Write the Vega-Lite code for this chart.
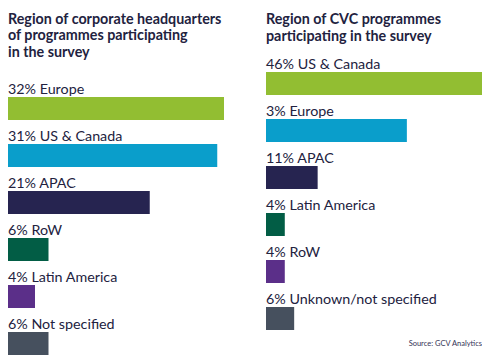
{
  "$schema": "https://vega.github.io/schema/vega-lite/v6.json",
  "background": "white",
  "padding": {"left": 8, "top": 12, "right": 0, "bottom": 0},
  "config": {
    "view": {"stroke": null},
    "font": "Lato",
    "concat": {"spacing": 42},
    "title": {"anchor": "start", "fontSize": 14.3, "fontWeight": "bold", "color": "#222240", "lineHeight": 16.5, "baseline": "top"}
  },
  "datasets": {
    "hq": [
      {"rank": 1, "region": "Europe", "pct": 32, "label": "32% Europe"},
      {"rank": 2, "region": "US & Canada", "pct": 31, "label": "31% US & Canada"},
      {"rank": 3, "region": "APAC", "pct": 21, "label": "21% APAC"},
      {"rank": 4, "region": "RoW", "pct": 6, "label": "6% RoW"},
      {"rank": 5, "region": "Latin America", "pct": 4, "label": "4% Latin America"},
      {"rank": 6, "region": "Not specified", "pct": 6, "label": "6% Not specified"}
    ],
    "cvc": [
      {"rank": 1, "region": "US & Canada", "pct": 46, "label": "46% US & Canada"},
      {"rank": 2, "region": "Europe", "pct": 30, "label": "3% Europe"},
      {"rank": 3, "region": "APAC", "pct": 11, "label": "11% APAC"},
      {"rank": 4, "region": "Latin America", "pct": 4, "label": "4% Latin America"},
      {"rank": 5, "region": "RoW", "pct": 4, "label": "4% RoW"},
      {"rank": 6, "region": "Unknown/not specified", "pct": 6, "label": "6% Unknown/not specified"}
    ],
    "source": [{"rank": 6, "pct": 46, "text": "Source: GCV Analytics"}]
  },
  "hconcat": [
    {
      "title": {"text": ["Region of corporate headquarters", "of programmes participating", "in the survey"], "offset": 21},
      "width": 216,
      "height": 282,
      "data": {"name": "hq"},
      "encoding": {
        "y": {"field": "rank", "type": "ordinal", "axis": null, "scale": {"paddingInner": 0, "paddingOuter": 0}}
      },
      "layer": [
        {
          "mark": {"type": "bar", "height": 23, "yOffset": 4},
          "encoding": {
            "x": {"field": "pct", "type": "quantitative", "axis": null, "scale": {"domain": [0, 32], "nice": false, "zero": true}},
            "color": {"field": "rank", "type": "ordinal", "legend": null, "scale": {"domain": [1, 2, 3, 4, 5, 6], "range": ["#92BE32", "#0A9ECB", "#262450", "#025D45", "#5B2F89", "#46505E"]}}
          }
        },
        {
          "mark": {"type": "text", "align": "left", "baseline": "alphabetic", "dy": -10.5, "fontSize": 14.3, "color": "#222240"},
          "encoding": {"x": {"datum": 0}, "text": {"field": "label"}}
        }
      ]
    },
    {
      "title": {"text": ["Region of CVC programmes", "participating in the survey"], "offset": 14},
      "width": 216,
      "height": 282,
      "encoding": {
        "y": {"field": "rank", "type": "ordinal", "axis": null, "scale": {"paddingInner": 0, "paddingOuter": 0}}
      },
      "layer": [
        {
          "data": {"name": "cvc"},
          "mark": {"type": "bar", "height": 23, "yOffset": -21},
          "encoding": {
            "x": {"field": "pct", "type": "quantitative", "axis": null, "scale": {"domain": [0, 46], "nice": false, "zero": true}},
            "color": {"field": "rank", "type": "ordinal", "legend": null, "scale": {"domain": [1, 2, 3, 4, 5, 6], "range": ["#92BE32", "#0A9ECB", "#262450", "#025D45", "#5B2F89", "#46505E"]}}
          }
        },
        {
          "data": {"name": "cvc"},
          "mark": {"type": "text", "align": "left", "baseline": "alphabetic", "dy": -35.5, "fontSize": 14.3, "color": "#222240"},
          "encoding": {"x": {"datum": 0}, "text": {"field": "label"}}
        },
        {
          "data": {"name": "source"},
          "mark": {"type": "text", "align": "right", "baseline": "alphabetic", "dy": 6.5, "fontSize": 7.5, "color": "#333355"},
          "encoding": {"x": {"field": "pct", "type": "quantitative"}, "text": {"field": "text"}}
        }
      ]
    }
  ]
}
